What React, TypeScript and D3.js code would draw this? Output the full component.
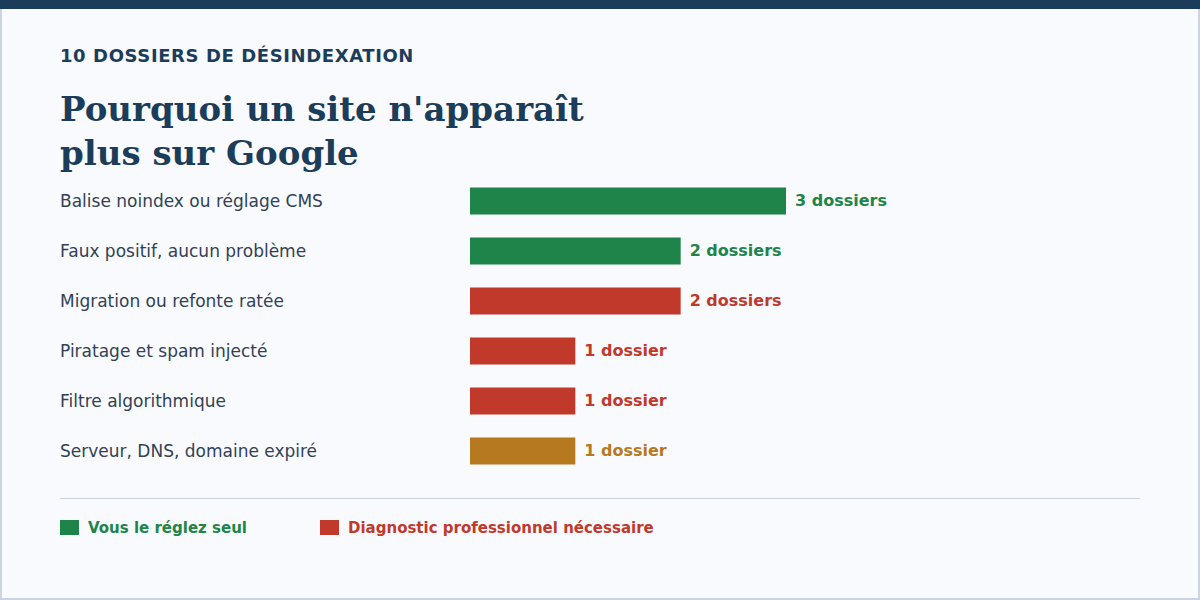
import React, { useEffect, useRef } from 'react';
import * as d3 from 'd3';

const categories = [
  'Balise noindex ou réglage CMS',
  'Faux positif, aucun problème',
  'Migration ou refonte ratée',
  'Piratage et spam injecté',
  'Filtre algorithmique',
  'Serveur, DNS, domaine expiré',
];
const counts = [3, 2, 2, 1, 1, 1];
const kinds = ['self', 'self', 'pro', 'pro', 'pro', 'infra'];

const legendLabels = ['Vous le réglez seul', 'Diagnostic professionnel nécessaire'];
const legendKinds = ['self', 'pro'];

const colors: Record<string, string> = {
  self: '#1e8449',
  pro: '#c0392b',
  infra: '#b7791f',
};

const W = 1200;
const H = 600;
const sans = "'DejaVu Sans', sans-serif";

const App: React.FC = () => {
  const ref = useRef<SVGSVGElement>(null);

  useEffect(() => {
    document.body.style.margin = '0';
    const svg = d3.select(ref.current!);
    svg.selectAll('*').remove();

    // card background + border
    svg.append('rect').attr('x', 1).attr('y', 1).attr('width', W - 2).attr('height', H - 2)
      .attr('fill', '#f8fafd').attr('stroke', '#cbd5e1').attr('stroke-width', 2);
    svg.append('rect').attr('x', 0).attr('y', 0).attr('width', W).attr('height', 9).attr('fill', '#1c3d5a');

    svg.append('text').attr('x', 60).attr('y', 62)
      .attr('font-family', sans).attr('font-weight', 'bold').attr('font-size', 18)
      .attr('fill', '#1c3d5a').attr('letter-spacing', 0.6)
      .text('10 DOSSIERS DE DÉSINDEXATION');

    const title = svg.append('text').attr('font-family', "'DejaVu Serif', serif")
      .attr('font-weight', 'bold').attr('font-size', 34).attr('fill', '#1c3d5a');
    title.append('tspan').attr('x', 60).attr('y', 121).text("Pourquoi un site n'apparaît");
    title.append('tspan').attr('x', 60).attr('y', 165).text('plus sur Google');

    const x = d3.scaleLinear().domain([0, 3]).range([470, 786]);
    const y = d3.scaleBand<string>().domain(categories).range([176, 476]).paddingInner(0.46).paddingOuter(0.23);

    const rows = svg.append('g').selectAll('g').data(categories).enter().append('g');

    rows.append('text').attr('x', 60).attr('y', (d) => y(d)! + y.bandwidth() / 2 + 6)
      .attr('font-family', sans).attr('font-size', 17).attr('fill', '#334155')
      .text((d) => d);

    rows.append('rect').attr('x', x(0)).attr('y', (d) => y(d)!)
      .attr('width', (_d, i) => x(counts[i]) - x(0)).attr('height', y.bandwidth())
      .attr('fill', (_d, i) => colors[kinds[i]]);

    rows.append('text').attr('x', (_d, i) => x(counts[i]) + 9)
      .attr('y', (d) => y(d)! + y.bandwidth() / 2 + 5)
      .attr('font-family', sans).attr('font-weight', 'bold').attr('font-size', 16)
      .attr('fill', (_d, i) => colors[kinds[i]])
      .text((_d, i) => `${counts[i]} ${counts[i] > 1 ? 'dossiers' : 'dossier'}`);

    svg.append('line').attr('x1', 60).attr('x2', 1140).attr('y1', 498.5).attr('y2', 498.5)
      .attr('stroke', '#cbd5e1').attr('stroke-width', 1);

    const leg = svg.append('g').selectAll('g').data(legendLabels).enter().append('g')
      .attr('transform', (_d, i) => `translate(${60 + i * 260},520)`);
    leg.append('rect').attr('width', 19).attr('height', 15).attr('fill', (_d, i) => colors[legendKinds[i]]);
    leg.append('text').attr('x', 28).attr('y', 12.5)
      .attr('font-family', sans).attr('font-weight', 'bold').attr('font-size', 15)
      .attr('fill', (_d, i) => colors[legendKinds[i]])
      .text((d) => d);
  }, []);

  return <svg ref={ref} width={W} height={H} style={{ display: 'block' }} />;
};

export default App;
